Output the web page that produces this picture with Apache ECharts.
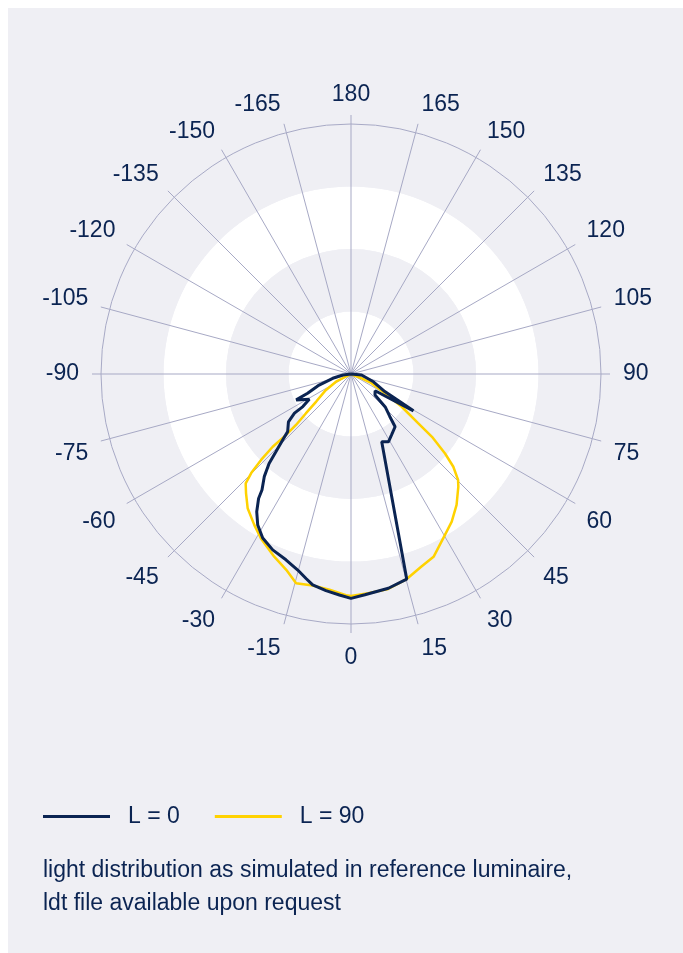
<!DOCTYPE html>
<html>
<head>
<meta charset="utf-8">
<script src="https://cdn.jsdelivr.net/npm/echarts@6/dist/echarts.min.js"></script>
<style>
  html, body { margin: 0; padding: 0; background: #ffffff; }
  #panel { position: absolute; left: 8px; top: 8px; width: 675px; height: 945px; background: #efeff4; }
  #chart { width: 675px; height: 945px; }
</style>
</head>
<body>
<div id="panel"><div id="chart"></div></div>
<script>
// ---- data (angle in degrees, 0 = down, positive = right; value in relative intensity units) ----
const seriesNames = ['L = 0', 'L = 90'];
const angleTicks = [-180, -165, -150, -135, -120, -105, -90, -75, -60, -45, -30, -15, 0, 15, 30, 45, 60, 75, 90, 105, 120, 135, 150, 165, 180];

const l0Angles = [-90, -83.1, -76.8, -70.9, -66.0, -64.7, -58.8, -55.9, -55.3, -52.6, -47.7, -46.0, -44.0, -42.5, -40.2, -37.5, -36.6, -34.4, -31.7, -28.3, -24.0, -19.3, -15.2, -12.4, -10.3, -6.6, -3.0, 0, 3.6, 9.9, 15.2, 24.4, 28.9, 33.7, 39.9, 42.4, 46.1, 48.8, 55.2, 59.5, 62.5, 70.9, 84.7, 90];
const l0Values = [0, 13, 30, 54, 76, 97, 78, 93, 110, 126, 137, 152, 173, 194, 215, 234, 248, 267, 284, 298, 308, 315, 325, 335, 343, 349, 354, 359, 354, 348, 340, 119, 124, 117, 110, 92, 76, 51, 47, 116, 61, 38, 17, 0];

const l90Angles = [-90, -62.8, -57.4, -51.6, -48.9, -47.2, -46.8, -47.1, -46.3, -45.2, -43.9, -41.4, -37.6, -32.6, -28.7, -22.8, -18.3, -14.7, -10.3, -5.7, -1.3, 0, 4.5, 9.8, 15.2, 20.1, 24.3, 30.3, 34.3, 38.9, 43.6, 45.3, 47.8, 49.8, 52.2, 53.8, 57.2, 60.4, 65.8, 68, 90];
const l90Values = [0, 27, 48, 71, 96, 120, 143, 171, 199, 225, 243, 254, 271, 287, 300, 317, 330, 346, 344, 347, 354, 355, 352, 349, 340, 328, 321, 298, 286, 269, 249, 241, 221, 197, 164, 133, 96, 63, 36, 16, 0];

const caption = ['light distribution as simulated in reference luminaire,', 'ldt file available upon request'];

// ---- styling ----
const NAVY = '#0b2452';
const YELLOW = '#ffd200';
const GRID = '#a7a9c5';
const FONT = '"Liberation Sans", Arial, Helvetica, sans-serif';
const FS = 23;

function pairs(angles, values) { return angles.map((a, i) => [values[i], a]); }

function fmt(v) {
  const s = v === -180 ? '180' : String(v);
  // labels near the vertical: hug the tick side (invisible twin keeps the block centred on the anchor)
  if (v === -165) return '{au|' + s + '}{hu|' + s + '}';
  if (v === 165) return '{hu|' + s + '}{au|' + s + '}';
  if (v === -15) return '{a|' + s + '}{h|' + s + '}';
  if (v === 15) return '{h|' + s + '}{a|' + s + '}';
  // labels near the horizontal: sit a little above / below
  if (v === -105 || v === 105) return '{a|' + s + '}\n{s1| }';
  if (v === -75 || v === 75) return '{s2| }\n{a|' + s + '}';
  // upper half labels sit slightly closer to the circle
  if (Math.abs(v) > 90) return '{au|' + s + '}';
  return s;
}

const base = { fontSize: FS, fontFamily: FONT, color: NAVY, lineHeight: 24 };

const chart = echarts.init(document.getElementById('chart'), null, { renderer: 'canvas' });
chart.setOption({
  backgroundColor: 'transparent',
  animation: false,
  textStyle: { fontFamily: FONT },
  polar: { center: [343, 366], radius: 250 },
  angleAxis: {
    type: 'value', min: -180, max: 180, interval: 15,
    startAngle: 90, clockwise: false,
    axisLine: { show: true, lineStyle: { color: GRID, width: 1 } },
    axisTick: { show: true, length: 9, lineStyle: { color: GRID, width: 1 } },
    splitLine: { show: true, lineStyle: { color: GRID, width: 1 } },
    axisLabel: {
      show: true, margin: 22, fontSize: FS, fontFamily: FONT, color: NAVY,
      formatter: fmt,
      rich: {
        a: Object.assign({}, base),
        h: Object.assign({}, base, { color: 'rgba(0,0,0,0)' }),
        au: Object.assign({}, base, { lineHeight: 14 }),
        hu: Object.assign({}, base, { lineHeight: 14, color: 'rgba(0,0,0,0)' }),
        s1: Object.assign({}, base, { lineHeight: 10 }),
        s2: Object.assign({}, base, { lineHeight: 19 })
      }
    }
  },
  radiusAxis: {
    type: 'value', min: 0, max: 400, interval: 100,
    axisLine: { show: false }, axisTick: { show: false }, axisLabel: { show: false },
    splitLine: { show: false },
    splitArea: { show: true, areaStyle: { color: ['#ffffff', '#efeff4'] } }
  },
  legend: {
    data: seriesNames,
    left: 30, top: 792,
    icon: 'rect', itemWidth: 67, itemHeight: 3, itemGap: 35,
    textStyle: { fontSize: FS, fontFamily: FONT, color: NAVY, padding: [0, 0, 0, 13] }
  },
  graphic: [{
    type: 'text', left: 35, top: 846,
    style: { text: caption.join('\n'), font: FS + 'px ' + FONT, fill: NAVY, lineHeight: 33 }
  }],
  series: [
    {
      name: seriesNames[1], type: 'line', coordinateSystem: 'polar',
      data: pairs(l90Angles, l90Values), showSymbol: false, symbol: 'none',
      color: YELLOW, lineStyle: { color: YELLOW, width: 2.5 }, z: 2
    },
    {
      name: seriesNames[0], type: 'line', coordinateSystem: 'polar',
      data: pairs(l0Angles, l0Values), showSymbol: false, symbol: 'none',
      color: NAVY, lineStyle: { color: NAVY, width: 3 }, z: 3
    }
  ]
});
</script>
</body>
</html>
